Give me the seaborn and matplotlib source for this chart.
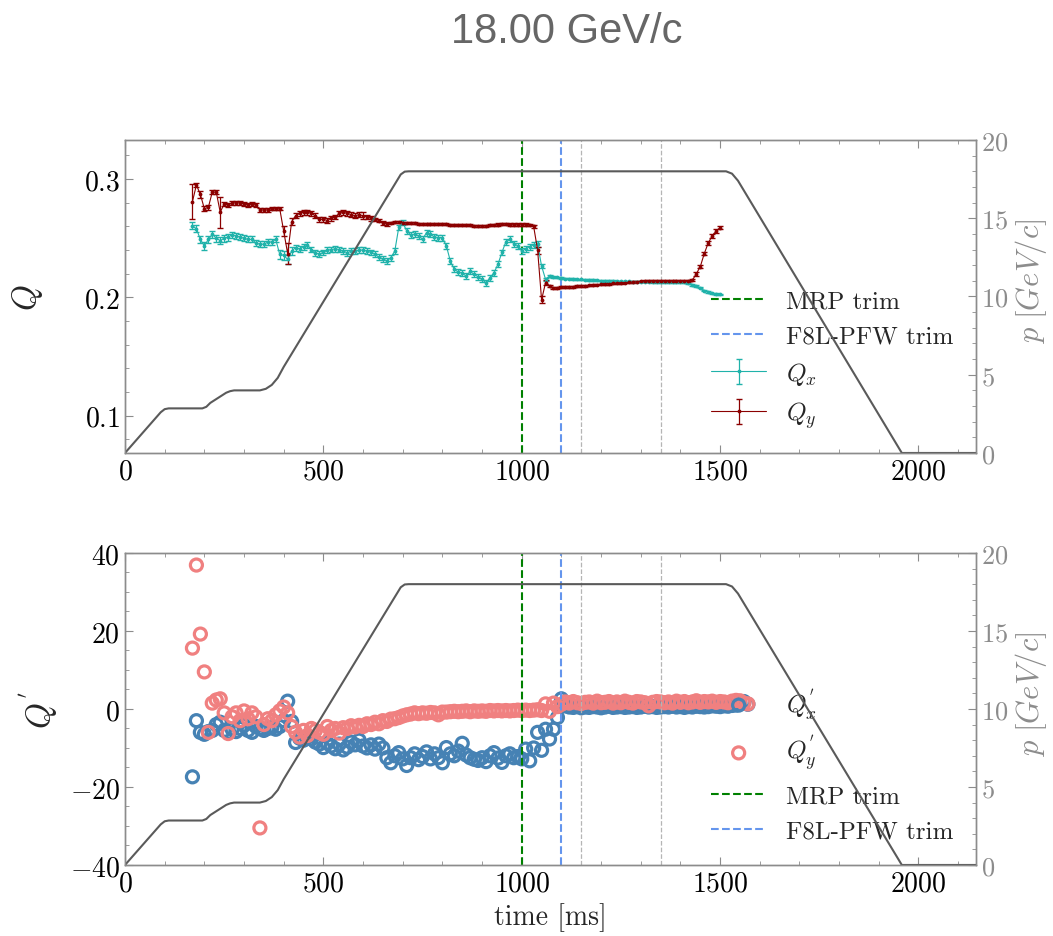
import matplotlib
matplotlib.use('Agg')
import matplotlib.pyplot as plt
from matplotlib.ticker import MultipleLocator
import seaborn as sns

# --- DATA ---
# momentum ramp, breakpoints [ms] / [GeV/c]
ramp_time = [0, 90, 100, 110, 195, 205, 215, 255, 265, 275, 340, 355, 370, 385, 400,
             695, 705, 715, 1515, 1530, 1545, 1958, 2145]
ramp_p = [0, 2.6, 2.8, 2.85, 2.85, 2.95, 3.2, 3.85, 3.95, 4.0, 4.0, 4.1, 4.35, 4.8, 5.5,
          17.8, 17.98, 18.0, 18.0, 17.85, 17.4, 0.0, 0.0]

# tunes
tune_time = [170, 180, 190, 200, 210, 220, 230, 240, 250, 260,
             270, 280, 290, 300, 310, 320, 330, 340, 350, 360,
             370, 380, 390, 400, 410, 420, 430, 440, 450, 460,
             470, 480, 490, 500, 510, 520, 530, 540, 550, 560,
             570, 580, 590, 600, 610, 620, 630, 640, 650, 660,
             670, 680, 690, 700, 710, 720, 730, 740, 750, 760,
             770, 780, 790, 800, 810, 820, 830, 840, 850, 860,
             870, 880, 890, 900, 910, 920, 930, 940, 950, 960,
             970, 980, 990, 1000, 1010, 1020, 1030, 1040, 1050, 1060,
             1070, 1080, 1090, 1100, 1110, 1120, 1130, 1140, 1150, 1160,
             1170, 1180, 1190, 1200, 1210, 1220, 1230, 1240, 1250, 1260,
             1270, 1280, 1290, 1300, 1310, 1320, 1330, 1340, 1350, 1360,
             1370, 1380, 1390, 1400, 1410, 1420, 1430, 1440, 1450, 1460,
             1470, 1480, 1490, 1500]

qx = [0.2605, 0.258, 0.249, 0.2435, 0.249, 0.2534, 0.250, 0.248, 0.250, 0.251,
      0.253, 0.252, 0.251, 0.250, 0.249, 0.249, 0.246, 0.245, 0.245, 0.2467,
      0.247, 0.249, 0.2364, 0.2355, 0.2322, 0.2392, 0.2421, 0.241, 0.243, 0.2441,
      0.2405, 0.2378, 0.2364, 0.238, 0.240, 0.2405, 0.241, 0.2405, 0.239, 0.2378,
      0.239, 0.239, 0.240, 0.2401, 0.2392, 0.238, 0.2364, 0.234, 0.2325, 0.2308,
      0.2336, 0.2392, 0.2591, 0.2633, 0.2562, 0.253, 0.2534, 0.252, 0.2492, 0.2548,
      0.2534, 0.251, 0.2506, 0.2506, 0.2435, 0.2308, 0.2237, 0.2215, 0.2205, 0.218,
      0.222, 0.2195, 0.2175, 0.2153, 0.2124, 0.2166, 0.2209, 0.228, 0.238, 0.247,
      0.249, 0.2455, 0.2435, 0.2392, 0.241, 0.243, 0.2445, 0.245, 0.2265, 0.2153,
      0.218, 0.2175, 0.217, 0.2165, 0.216, 0.2158, 0.2155, 0.2153, 0.2152, 0.215,
      0.2148, 0.2146, 0.2144, 0.2142, 0.214, 0.2139, 0.2138, 0.2137, 0.2136, 0.2135,
      0.2135, 0.2134, 0.2134, 0.2133, 0.2133, 0.2133, 0.2132, 0.2132, 0.2132, 0.2131,
      0.2131, 0.2131, 0.213, 0.213, 0.213, 0.212, 0.2105, 0.2098, 0.2082, 0.2058,
      0.2045, 0.2035, 0.203, 0.2026]
qx_err = [0.003, 0.003, 0.003, 0.003, 0.003, 0.003, 0.003, 0.003, 0.003, 0.003,
          0.0025, 0.0025, 0.0025, 0.0025, 0.0025, 0.0025, 0.0025, 0.0025, 0.0025, 0.0025,
          0.0025, 0.0025, 0.004, 0.004, 0.004, 0.003, 0.0025, 0.0025, 0.0025, 0.0025,
          0.0025, 0.0025, 0.0025, 0.0025, 0.0025, 0.0025, 0.0025, 0.0025, 0.0025, 0.0025,
          0.0025, 0.0025, 0.0025, 0.0025, 0.0025, 0.0025, 0.0025, 0.0025, 0.0025, 0.0025,
          0.0025, 0.0025, 0.0025, 0.0025, 0.0025, 0.0025, 0.0025, 0.0025, 0.0025, 0.0025,
          0.0025, 0.0025, 0.0025, 0.0025, 0.0025, 0.0025, 0.0025, 0.0025, 0.0025, 0.0025,
          0.0025, 0.0025, 0.0025, 0.0025, 0.0025, 0.0025, 0.0025, 0.0025, 0.0025, 0.0025,
          0.0025, 0.0025, 0.0025, 0.0025, 0.0025, 0.0025, 0.0025, 0.0025, 0.002, 0.001,
          0.0008, 0.0008, 0.0006, 0.0006, 0.0006, 0.0006, 0.0006, 0.0006, 0.0006, 0.0006,
          0.0006, 0.0006, 0.0006, 0.0006, 0.0006, 0.0006, 0.0006, 0.0006, 0.0006, 0.0006,
          0.0006, 0.0006, 0.0006, 0.0006, 0.0006, 0.0006, 0.0006, 0.0006, 0.0006, 0.0006,
          0.0006, 0.0006, 0.0006, 0.0006, 0.0006, 0.0006, 0.0006, 0.0006, 0.0006, 0.0006,
          0.0006, 0.0006, 0.0006, 0.0006]

qy = [0.281, 0.295, 0.287, 0.275, 0.276, 0.289, 0.289, 0.272, 0.279, 0.278,
      0.280, 0.280, 0.280, 0.279, 0.278, 0.279, 0.278, 0.274, 0.274, 0.274,
      0.275, 0.275, 0.275, 0.256, 0.237, 0.264, 0.269, 0.271, 0.272, 0.272,
      0.271, 0.269, 0.266, 0.266, 0.265, 0.267, 0.268, 0.271, 0.272, 0.271,
      0.270, 0.269, 0.270, 0.269, 0.268, 0.267, 0.266, 0.265, 0.263, 0.262,
      0.263, 0.264, 0.264, 0.263, 0.263, 0.263, 0.263, 0.262, 0.262, 0.262,
      0.262, 0.262, 0.262, 0.262, 0.262, 0.261, 0.261, 0.261, 0.261, 0.261,
      0.261, 0.2605, 0.2605, 0.2605, 0.2605, 0.261, 0.261, 0.2615, 0.262, 0.262,
      0.2615, 0.2615, 0.2615, 0.2615, 0.2615, 0.261, 0.260, 0.240, 0.198, 0.2125,
      0.210, 0.2078, 0.208, 0.2085, 0.2088, 0.209, 0.2092, 0.2095, 0.2097, 0.210,
      0.2102, 0.2105, 0.2108, 0.211, 0.2112, 0.2115, 0.2118, 0.212, 0.2122, 0.2125,
      0.2128, 0.213, 0.2133, 0.2136, 0.2138, 0.2138, 0.2138, 0.2138, 0.2138, 0.2138,
      0.2138, 0.2138, 0.2138, 0.2138, 0.2138, 0.2138, 0.2145, 0.220, 0.226, 0.237,
      0.246, 0.252, 0.256, 0.259]
qy_err = [0.015, 0.002, 0.003, 0.002, 0.002, 0.002, 0.002, 0.013, 0.002, 0.002,
          0.0015, 0.0015, 0.0015, 0.0015, 0.0015, 0.0015, 0.0015, 0.0015, 0.0015, 0.0015,
          0.0015, 0.0015, 0.0015, 0.004, 0.009, 0.003, 0.002, 0.002, 0.002, 0.002,
          0.002, 0.002, 0.002, 0.002, 0.002, 0.002, 0.002, 0.002, 0.002, 0.002,
          0.002, 0.002, 0.002, 0.003, 0.002, 0.002, 0.0015, 0.0015, 0.0015, 0.0015,
          0.001, 0.001, 0.001, 0.001, 0.001, 0.001, 0.001, 0.001, 0.001, 0.001,
          0.001, 0.001, 0.001, 0.001, 0.001, 0.001, 0.001, 0.001, 0.001, 0.001,
          0.001, 0.001, 0.001, 0.001, 0.001, 0.001, 0.001, 0.001, 0.001, 0.001,
          0.001, 0.001, 0.001, 0.001, 0.001, 0.001, 0.001, 0.003, 0.003, 0.002,
          0.0008, 0.0008, 0.0008, 0.0008, 0.0008, 0.0008, 0.0008, 0.0008, 0.0008, 0.0008,
          0.0006, 0.0006, 0.0006, 0.0006, 0.0006, 0.0006, 0.0006, 0.0006, 0.0006, 0.0006,
          0.0006, 0.0006, 0.0006, 0.0006, 0.0006, 0.0006, 0.0006, 0.0006, 0.0006, 0.0006,
          0.0006, 0.0006, 0.0006, 0.0006, 0.0006, 0.0006, 0.001, 0.0015, 0.0015, 0.0015,
          0.0015, 0.0015, 0.0015, 0.0015]

# chromaticities
chroma_time = [170, 180, 190, 200, 210, 220, 230, 240, 250, 260,
               270, 280, 290, 300, 310, 320, 330, 340, 350, 360,
               370, 380, 390, 400, 410, 420, 430, 440, 450, 460,
               470, 480, 490, 500, 510, 520, 530, 540, 550, 560,
               570, 580, 590, 600, 610, 620, 630, 640, 650, 660,
               670, 680, 690, 700, 710, 720, 730, 740, 750, 760,
               770, 780, 790, 800, 810, 820, 830, 840, 850, 860,
               870, 880, 890, 900, 910, 920, 930, 940, 950, 960,
               970, 980, 990, 1000, 1010, 1020, 1030, 1040, 1050, 1060,
               1070, 1080, 1090, 1100, 1110, 1120, 1130, 1140, 1150, 1160,
               1170, 1180, 1190, 1200, 1210, 1220, 1230, 1240, 1250, 1260,
               1270, 1280, 1290, 1300, 1310, 1320, 1330, 1340, 1350, 1360,
               1370, 1380, 1390, 1400, 1410, 1420, 1430, 1440, 1450, 1460,
               1470, 1480, 1490, 1500, 1510, 1520, 1530, 1540, 1550, 1560,
               1570]
chroma_x = [-17.4, -3.0, -6.0, -6.5, -5.8, -5.5, -4.0, -3.4, -5.5, -6.0,
            -5.2, -5.8, -5.0, -4.2, -5.5, -6.0, -4.5, -5.0, -5.5, -5.0,
            -4.8, -5.2, -4.5, -3.0, 2.0, -3.2, -8.6, -7.5, -8.0, -7.2,
            -7.7, -8.5, -9.0, -9.9, -8.8, -9.5, -10.2, -9.0, -10.5, -9.8,
            -8.5, -9.2, -8.0, -9.5, -10.0, -9.2, -10.3, -9.0, -10.0, -12.5,
            -13.8, -12.0, -11.2, -12.8, -14.5, -12.5, -11.5, -13.0, -12.2, -11.0,
            -12.8, -11.5, -12.5, -13.8, -9.9, -11.5, -12.0, -10.8, -8.8, -11.8,
            -12.5, -12.9, -13.2, -12.5, -13.5, -12.0, -11.2, -12.6, -13.7, -12.0,
            -11.5, -12.5, -12.2, -12.8, -10.3, -13.3, -10.0, -6.0, -10.6, -5.2,
            -7.7, -5.2, -2.2, 2.6, 0.8, 0.5, 0.4, 0.6, 0.3, 0.5,
            0.4, 0.6, 0.5, 0.3, 0.5, 0.7, 0.4, 0.5, 0.6, 0.4,
            0.5, 0.6, 0.4, 0.5, 0.7, 0.5, 0.6, 0.4, 0.5, 0.6,
            0.5, 0.7, 0.5, 0.6, 0.4, 0.6, 0.5, 0.7, 0.6, 0.5,
            0.6, 0.8, 0.7, 0.6, 0.8, 0.7, 0.9, 1.0, 1.4, 1.9,
            1.2]
chroma_y = [15.6, 36.9, 19.2, 9.5, -6.0, 1.5, 2.3, 2.6, -1.0, -6.3,
            -2.0, -1.0, -3.0, -0.5, -2.5, -1.0, -2.0, -30.5, -4.0, -2.5,
            -3.0, -1.5, -0.5, 0.5, -1.0, -4.5, -6.0, -7.2, -5.5, -6.8,
            -5.0, -5.5, -6.0, -6.5, -4.5, -5.5, -5.0, -6.2, -4.8, -5.0,
            -4.3, -4.6, -4.2, -4.5, -3.8, -4.0, -3.4, -3.8, -3.0, -3.2,
            -2.6, -2.5, -2.2, -1.8, -1.5, -1.3, -1.0, -1.2, -1.0, -1.1,
            -0.9, -1.0, -1.5, -0.8, -0.8, -0.7, -0.6, -0.7, -0.6, -0.5,
            -0.7, -0.5, -0.6, -0.5, -0.6, -0.4, -0.5, -0.4, -0.5, -0.4,
            -0.5, -0.4, -0.3, -0.4, -0.3, -0.4, -0.3, -0.2, -0.4, 1.3,
            -0.6, 1.5, 0.6, 1.2, 1.8, 1.5, 1.9, 1.6, 1.4, 1.7,
            1.8, 1.5, 2.0, 1.6, 1.7, 1.9, 1.5, 1.8, 1.6, 2.0,
            1.7, 1.5, 1.9, 1.8, 1.6, 0.8, 1.7, 1.9, 1.8, 1.6,
            1.8, 1.5, 2.0, 1.7, 1.9, 1.6, 1.8, 2.1, 1.7, 1.9,
            1.8, 2.0, 1.7, 1.9, 1.8, 1.6, 2.0, 2.2, 2.1, 1.5,
            1.3]

MRP_TRIM = 1000
PFW_TRIM = 1100
OTHER_MARKS = [1150, 1350]
TITLE = '18.00 GeV/c'

# --- STYLE ---
sns.set_style('ticks')
plt.rcParams['font.family'] = 'serif'
plt.rcParams['font.serif'] = ['cmr10']
plt.rcParams['mathtext.fontset'] = 'cm'
plt.rcParams['axes.formatter.use_mathtext'] = True

SPINE = '#8c8c8c'
RAMP = '#5a5a5a'


def style_axes(ax, ax2, ymajor, yminor):
    ax.set_xlim(0, 2145)
    ax.xaxis.set_major_locator(MultipleLocator(500))
    ax.xaxis.set_minor_locator(MultipleLocator(100))
    ax.yaxis.set_major_locator(MultipleLocator(ymajor))
    ax.yaxis.set_minor_locator(MultipleLocator(yminor))
    ax.tick_params(which='both', direction='in', top=True, right=False,
                   color=SPINE, labelcolor='black', labelsize=20)
    ax.tick_params(which='major', length=6)
    ax.tick_params(which='minor', length=3)
    ax2.set_ylim(0, 20)
    ax2.yaxis.set_major_locator(MultipleLocator(5))
    ax2.yaxis.set_minor_locator(MultipleLocator(1))
    ax2.tick_params(which='both', direction='in', color=SPINE,
                    labelcolor='#8c8c8c', labelsize=19)
    ax2.tick_params(which='major', length=6)
    ax2.tick_params(which='minor', length=3)
    ax2.set_ylabel(r'$p\ [GeV/c]$', color='#8c8c8c', fontsize=22)
    ax2.yaxis.set_label_coords(1.043, 0.55)
    for a in (ax, ax2):
        for s in a.spines.values():
            s.set_color(SPINE)
            s.set_linewidth(1.0)


def draw_trims(ax):
    ax.axvline(MRP_TRIM, color='green', ls='--', lw=1.5, label='MRP trim')
    ax.axvline(PFW_TRIM, color='cornflowerblue', ls='--', lw=1.5, label='F8L-PFW trim')
    for t in OTHER_MARKS:
        ax.axvline(t, color='#b5b5b5', ls='--', lw=0.9)


fig = plt.figure(figsize=(10.53, 9.37), dpi=100)
ax_top = fig.add_axes([0.1187, 0.5155, 0.8082, 0.334])
ax_bot = fig.add_axes([0.1187, 0.0758, 0.8082, 0.333])

# --- TOP: tunes ---
draw_trims(ax_top)
ax_top.errorbar(tune_time, qx, yerr=qx_err, fmt='.-', color='lightseagreen',
                ms=3.5, lw=0.8, elinewidth=0.9, capsize=2.5, label='$Q_x$')
ax_top.errorbar(tune_time, qy, yerr=qy_err, fmt='.-', color='#8b0000',
                ms=3.5, lw=0.8, elinewidth=0.9, capsize=2.5, label='$Q_y$')
ax_top.set_ylim(0.0686, 0.333)
ax_top.set_ylabel('$Q$', fontsize=24)
ax_top.yaxis.set_label_coords(-0.094, 0.5)

ax_top2 = ax_top.twinx()
sns.lineplot(x=ramp_time, y=ramp_p, ax=ax_top2, color=RAMP, lw=1.5)
style_axes(ax_top, ax_top2, 0.1, 0.02)
ax_top.legend(loc='lower right', frameon=False, fontsize=18, handlelength=2.2)

# --- BOTTOM: chromaticities ---
sns.scatterplot(x=chroma_time, y=chroma_x, ax=ax_bot, s=75, facecolor='none',
                edgecolor='steelblue', linewidth=2.3, label=r"$Q^{'}_x$")
sns.scatterplot(x=chroma_time, y=chroma_y, ax=ax_bot, s=75, facecolor='none',
                edgecolor='lightcoral', linewidth=2.3, label=r"$Q^{'}_y$")
draw_trims(ax_bot)
ax_bot.set_ylim(-40, 40)
ax_bot.set_ylabel(r"$Q^{'}$", fontsize=24)
ax_bot.yaxis.set_label_coords(-0.076, 0.5)
ax_bot.set_xlabel('time [ms]', fontsize=20)

ax_bot2 = ax_bot.twinx()
sns.lineplot(x=ramp_time, y=ramp_p, ax=ax_bot2, color=RAMP, lw=1.5)
style_axes(ax_bot, ax_bot2, 20, 5)
ax_bot.legend(loc='lower right', frameon=False, fontsize=18, handlelength=2.2,
              scatterpoints=1)

fig.text(0.538, 0.966, TITLE, ha='center', va='center', fontsize=30,
         color='#666666', family='Liberation Sans')

fig.savefig('out.png', dpi=100)
